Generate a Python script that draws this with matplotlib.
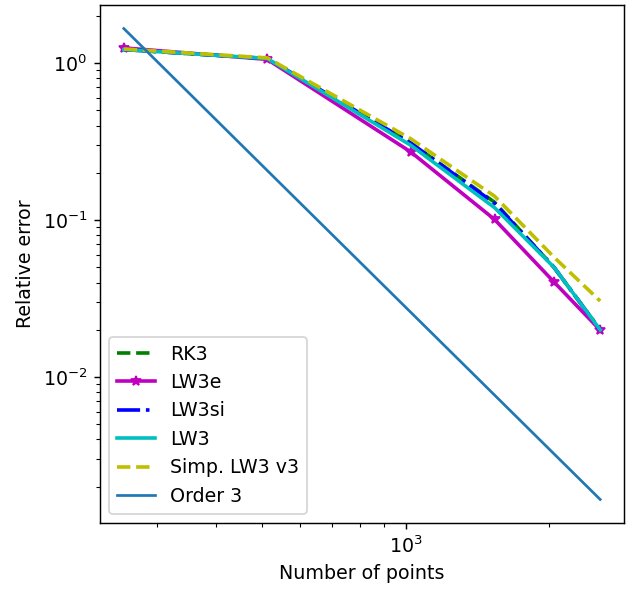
import matplotlib
matplotlib.use("Agg")
import matplotlib.pyplot as plt

plt.rcParams['font.size'] = 10.5

# Number of points used in the convergence study
n_points = [256, 512, 1024, 1536, 2048, 2560]

# Relative errors
err_rk3 = [1.22, 1.07, 0.31, 0.13, 0.050, 0.020]
err_lw3e = [1.25, 1.056, 0.272, 0.101, 0.0403, 0.0199]
err_lw3si = [1.22, 1.07, 0.31, 0.128, 0.050, 0.020]
err_lw3 = [1.22, 1.07, 0.30, 0.120, 0.050, 0.020]
err_simp = [1.23, 1.08, 0.33, 0.142, 0.058, 0.0305]

# Order 3 reference line values at the same points
order3 = [1.66, 0.207, 0.0259, 0.00768, 0.00324, 0.00166]

fig = plt.figure(figsize=(629 / 130, 595 / 130), dpi=130)
ax = fig.add_axes([100 / 629, 72 / 595, 524 / 629, 518 / 595])

ax.loglog(n_points, err_rk3, 'g--', lw=2, label='RK3')
ax.loglog(n_points, err_lw3e, 'm-*', lw=2, label='LW3e')
ax.loglog(n_points, err_lw3si, 'b-.', lw=2, label='LW3si')
ax.loglog(n_points, err_lw3, 'c-', lw=2, label='LW3')
ax.loglog(n_points, err_simp, 'y--', lw=2, label='Simp. LW3 v3')
ax.loglog(n_points, order3, label='Order 3')

ax.set_xlabel('Number of points')
ax.set_ylabel('Relative error')
ax.legend(loc='lower left')

fig.savefig('out.png', dpi=130)
